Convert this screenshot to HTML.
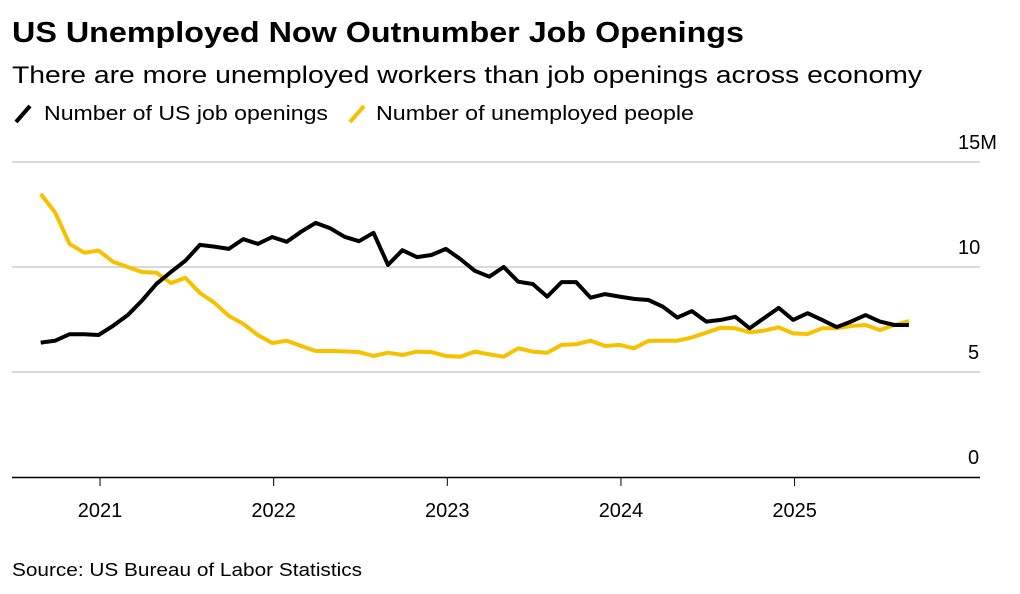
<!DOCTYPE html>
<html><head><meta charset="utf-8">
<style>
body{margin:0;background:#fff;font-family:"Liberation Sans",Arial,sans-serif;}
#wrap{position:relative;width:1020px;height:594px;overflow:hidden;}
</style></head>
<body>
<div id="wrap">
<svg id="chart" width="1020" height="594" style="position:absolute;left:0;top:0">
<text x="12" y="42" font-size="29" font-weight="bold" fill="#000" textLength="732" lengthAdjust="spacingAndGlyphs">US Unemployed Now Outnumber Job Openings</text>
<text x="12" y="83" font-size="24" fill="#000" textLength="910" lengthAdjust="spacingAndGlyphs">There are more unemployed workers than job openings across economy</text>
<g>
<g><line x1="16" y1="122" x2="30" y2="106" stroke="#000" stroke-width="4"/><text x="44" y="120" font-size="20" fill="#000" textLength="284" lengthAdjust="spacingAndGlyphs">Number of US job openings</text></g>
<g><line x1="350" y1="122" x2="364" y2="106" stroke="#f7c100" stroke-width="4"/><text x="376" y="120" font-size="20" fill="#000" textLength="318" lengthAdjust="spacingAndGlyphs">Number of unemployed people</text></g>
</g>
<g id="grid"></g>
<g id="ylabels"></g>
<g id="xlabels"></g>
<g id="series"></g>
<text x="12" y="576" font-size="18" fill="#000" textLength="350" lengthAdjust="spacingAndGlyphs">Source: US Bureau of Labor Statistics</text>
</svg>
</div>
<script>
const openings=[6.40,6.49,6.8,6.8,6.76,7.2,7.7,8.4,9.2,9.76,10.3,11.05,10.97,10.86,11.33,11.1,11.43,11.2,11.68,12.1,11.85,11.44,11.23,11.63,10.1,10.8,10.47,10.57,10.86,10.38,9.82,9.54,10.0,9.3,9.19,8.59,9.28,9.28,8.54,8.71,8.59,8.48,8.43,8.11,7.59,7.9,7.4,7.48,7.63,7.08,7.57,8.05,7.48,7.8,7.48,7.14,7.4,7.71,7.4,7.24,7.24];
const unemployed=[13.48,12.59,11.1,10.68,10.78,10.25,10.0,9.76,9.73,9.24,9.48,8.76,8.3,7.67,7.29,6.76,6.38,6.49,6.24,6.0,6.0,5.98,5.95,5.76,5.92,5.81,5.97,5.95,5.76,5.73,5.97,5.84,5.73,6.13,5.97,5.92,6.29,6.32,6.49,6.24,6.29,6.13,6.48,6.49,6.49,6.65,6.87,7.11,7.08,6.89,6.97,7.13,6.84,6.81,7.08,7.08,7.19,7.24,7.0,7.24,7.43];
const yTicks=[0,5,10,15];
const yTickLabels=["0","5","10","15M"];
const yearLabels=["2021","2022","2023","2024","2025"];
const yearIndex=[4.1,16.1,28.1,40.1,52.1];

const NS="http://www.w3.org/2000/svg";
const x=i=>40.7+i*14.47;
const y=v=>477-v*21;
function mk(tag,attrs,parent){const e=document.createElementNS(NS,tag);for(const k in attrs)e.setAttribute(k,attrs[k]);parent.appendChild(e);return e;}
const grid=document.getElementById('grid'),yl=document.getElementById('ylabels'),xl=document.getElementById('xlabels'),ser=document.getElementById('series');
yTicks.forEach((t,k)=>{
  if(t>0){const g=mk('line',{x1:12,x2:980,y1:y(t),y2:y(t),stroke:'#d9d9d9','stroke-width':2},grid);
  
  }
  const tx=mk('text',{x:t>=10?958:968,y:y(t)-13,'font-size':20,fill:'#000'},yl);
  tx.textContent=yTickLabels[k];
  
  
});
const ax=mk('line',{x1:12,x2:980,y1:477.5,y2:477.5,stroke:'#000','stroke-width':1.5},grid);


yearLabels.forEach((l,k)=>{
  const tk=mk('line',{x1:x(yearIndex[k]),x2:x(yearIndex[k]),y1:477,y2:486,stroke:'#000','stroke-width':1},xl);
  
  
  const t=mk('text',{x:x(yearIndex[k]),y:517,'font-size':20,fill:'#000','text-anchor':'middle'},xl);
  t.textContent=l;
  
  
});
function line(data,color,name){
  const d=data.map((v,i)=>(i?'L':'M')+x(i).toFixed(1)+','+y(v).toFixed(1)).join('');
  const p=mk('path',{d:d,fill:'none',stroke:color,'stroke-width':4,'stroke-linejoin':'round'},ser);
  
  
}
line(unemployed,'#f7c100','unemployed-line');
line(openings,'#000','job-openings-line');
</script>
</body></html>
